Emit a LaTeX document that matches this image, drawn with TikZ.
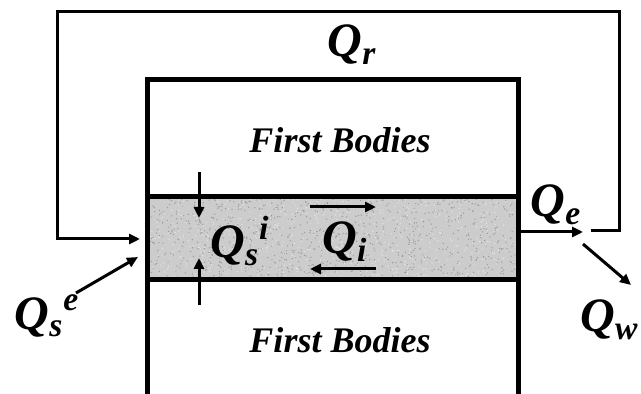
\documentclass[tikz,border=0pt]{standalone}
\usepackage{fontspec}
\setmainfont{Liberation Serif}
\usetikzlibrary{arrows.meta}
\tikzset{
  loopline/.style={line width=1.5pt},
  wall/.style={line width=2.5pt},
  flow/.style={line width=1.5pt,-{Triangle[length=5.5pt,width=5pt]}},
  lbl/.style={inner sep=0pt,font=\fontsize{18}{20}\selectfont\bfseries\itshape},
  qlbl/.style={inner sep=0pt,font=\fontsize{24}{26}\selectfont\bfseries\itshape}
}
\begin{document}
\begin{tikzpicture}[x=0.5pt,y=-0.5pt,line join=miter]
				\useasboundingbox (0,0) rectangle (641,394);
				% third body band
				\fill[black!20] (147,197) rectangle (518,280);
				\pgfmathsetseed{7}
				\foreach \k in {1,...,900}
				\fill[black!40] ({149+rnd*367},{199+rnd*79}) circle (0.7);
				\foreach \k in {1,...,600}
				\fill[white!90!black] ({149+rnd*367},{199+rnd*79}) circle (0.7);
				% first bodies, open at the bottom
				\draw[wall] (147,394)--(147,80)--(518,80)--(518,394);
				\draw[wall] (147,197)--(518,197);
				\draw[wall] (147,280)--(518,280);
				\node[lbl] (top) at (340,140) {First Bodies};
				\node[lbl] (bot) at (340,340) {First Bodies};
				% recirculation loop
				\coordinate (re) at (591,231);
				\coordinate (rin) at (140,239);
				\draw[loopline,-{Triangle[length=5.5pt,width=5pt]}] (re)--(619,231)--(619,12)--(57,12)--(57,239)--(rin);
				\node[qlbl] (qr) at (352,45) {Q\textsubscript{r}};
				% external source
				\coordinate (se0) at (76,293);
				\coordinate (se1) at (138,257);
				\draw[flow] (se0)--(se1);
				\node[qlbl] (qse) at (47,316) {Q\textsubscript{s}\textsuperscript{e}};
				% ejection and wear
				\coordinate (e0) at (518,232);
				\coordinate (e1) at (583,232);
				\draw[flow] (e0)--(e1);
				\node[qlbl] (qe) at (556,205) {Q\textsubscript{e}};
				\coordinate (w0) at (583,244);
				\coordinate (w1) at (631,285);
				\draw[flow] (w0)--(w1);
				\node[qlbl,anchor=east] (qw) at (639,320) {Q\textsubscript{w}};
				% internal source
				\coordinate (si0) at (199,172);
				\coordinate (si1) at (199,218);
				\coordinate (si2) at (199,305);
				\coordinate (si3) at (199,258);
				\draw[flow] (si0)--(si1);
				\draw[flow] (si2)--(si3);
				\node[qlbl] (qsi) at (240,241) {Q\textsubscript{s}\textsuperscript{i}};
				% internal flows
				\coordinate (i0) at (310,207);
				\coordinate (i1) at (376,207);
				\coordinate (i2) at (376,269);
				\coordinate (i3) at (310,269);
				\draw[flow] (i0)--(i1);
				\draw[flow] (i2)--(i3);
				\node[qlbl] (qi) at (345,242) {Q\textsubscript{i}};
\end{tikzpicture}
\end{document}
